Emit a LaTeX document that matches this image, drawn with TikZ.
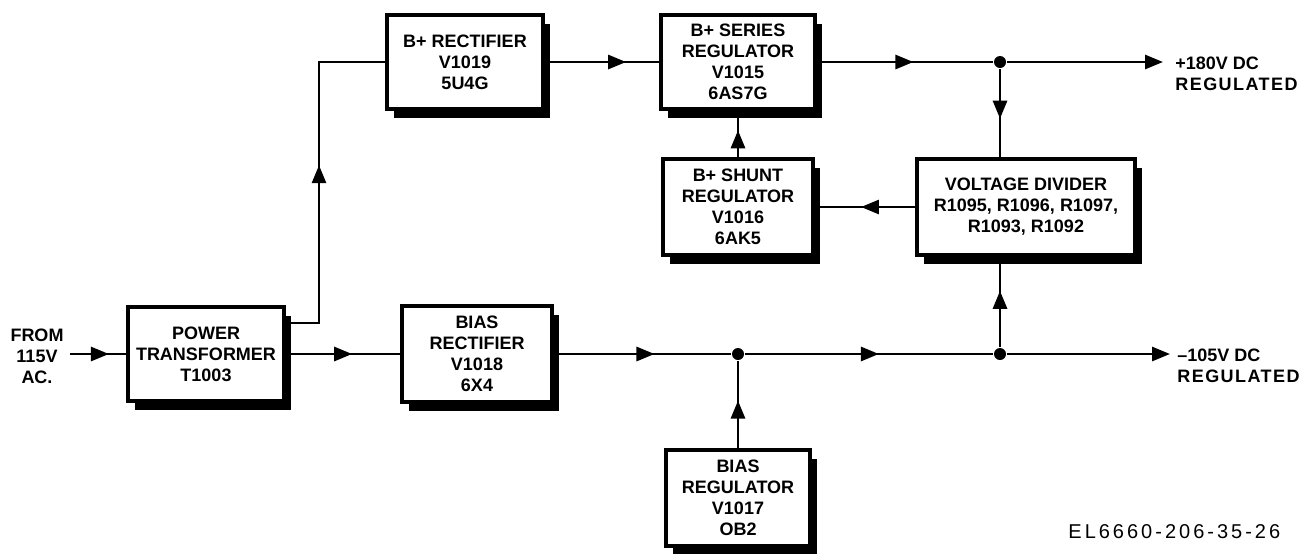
\documentclass[tikz,border=0pt]{standalone}
\usepackage{fontspec}
\setmainfont{Liberation Sans}
\usetikzlibrary{arrows.meta,shadows,decorations.markings}

\begin{document}
\begin{tikzpicture}[
    x=0.5pt, y=-0.5pt,
    line width=1.4pt,
    font=\fontsize{9}{10.5}\selectfont\bfseries,
    blk/.style={draw, fill=white, line width=1.6pt, align=center, inner sep=2pt,
      drop shadow={shadow xshift=3.5pt, shadow yshift=-4.5pt, fill=black, opacity=1}},
    flow/.style={postaction={decorate}, decoration={markings,
      mark=at position #1 with {\arrow{Triangle[length=9pt,width=7pt]}}}},
    outflow/.style={-{Triangle[length=9pt,width=7pt]}},
    dot/.style={circle, fill, inner sep=0pt, minimum size=6pt},
    lab/.style={align=left, anchor=west, inner sep=0pt}
  ]
    \useasboundingbox (0,0) rectangle (1312,553);

    \node[blk, minimum width=78pt, minimum height=47pt] (xfmr) at (206,354) {POWER\\TRANSFORMER\\T1003};
    \node[blk, minimum width=78pt, minimum height=47pt] (brect) at (465,62) {B+ RECTIFIER\\V1019\\5U4G};
    \node[blk, minimum width=77pt, minimum height=47pt] (series) at (738,62) {B+ SERIES\\REGULATOR\\V1015\\6AS7G};
    \node[blk, minimum width=75pt, minimum height=48pt] (shunt) at (738,207) {B+ SHUNT\\REGULATOR\\V1016\\6AK5};
    \node[blk, minimum width=109pt, minimum height=48pt] (vdiv) at (1026,207) {VOLTAGE DIVIDER\\R1095, R1096, R1097,\\R1093, R1092};
    \node[blk, minimum width=75pt, minimum height=48pt] (brect2) at (477,354) {BIAS\\RECTIFIER\\V1018\\6X4};
    \node[blk, minimum width=72pt, minimum height=48pt] (breg) at (738,498) {BIAS\\REGULATOR\\V1017\\OB2};

    \node[dot] (j1) at (1000,62) {};
    \node[dot] (j2) at (738,354) {};
    \node[dot] (j3) at (1000,354) {};

    \coordinate (src) at (70,354);
    \coordinate (tap) at (319,323);
    \coordinate (out1) at (1163,62);
    \coordinate (out2) at (1170,354);

    \node[align=center] (src lab) at (37,356) {FROM\\115V\\AC.};
    \node[lab] (out1 lab) at (1174,74) {+180V DC\\{\addfontfeature{LetterSpace=8}REGULATED}};
    \node[lab] (out2 lab) at (1176,366) {--105V DC\\{\addfontfeature{LetterSpace=8}REGULATED}};
    \node[anchor=west, inner sep=0pt, font=\fontsize{10}{12}\selectfont\mdseries] (fig id) at (1067,532) {\addfontfeature{LetterSpace=15}EL6660-206-35-26};

    \draw[flow=0.69] (src) -- (xfmr);
    \draw[flow=0.53] (xfmr.east |- tap) -- (tap) |- (brect);
    \draw[flow=0.58] (xfmr) -- (brect2);
    \draw[flow=0.71] (brect) -- (series);
    \draw[flow=0.55] (series) -- (j1);
    \draw[outflow] (j1) -- (out1);
    \draw[flow=0.56] (j1) -- (j1 |- vdiv.north);
    \draw[flow=0.54] (vdiv) -- (shunt);
    \draw[flow=0.58] (shunt) -- (series);
    \draw[flow=0.57] (brect2) -- (j2);
    \draw[flow=0.54] (j2) -- (j3);
    \draw[outflow] (j3) -- (out2);
    \draw[flow=0.55] (breg) -- (j2);
    \draw[flow=0.62] (j3) -- (j3 |- vdiv.south);
  \end{tikzpicture}
\end{document}
